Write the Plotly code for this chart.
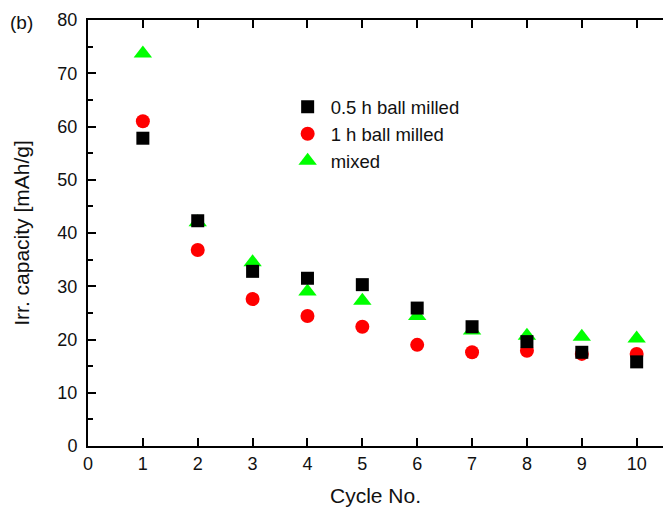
import plotly.graph_objects as go

cycles = [1, 2, 3, 4, 5, 6, 7, 8, 9, 10]
half_h = [57.8, 42.3, 32.8, 31.5, 30.3, 25.9, 22.4, 19.6, 17.6, 15.8]
one_h = [61.0, 36.8, 27.6, 24.4, 22.4, 19.0, 17.6, 17.9, 17.3, 17.3]
mixed = [73.7, 42.0, 34.5, 29.0, 27.3, 24.4, 21.7, 20.7, 20.5, 20.2]

FONT = "Liberation Sans, Arial, sans-serif"

fig = go.Figure()
fig.add_trace(go.Scatter(x=cycles, y=mixed, mode="markers", name="mixed", legendrank=3,
                         marker=dict(symbol="triangle-up", size=16, color="#00ff00")))
fig.add_trace(go.Scatter(x=cycles, y=one_h, mode="markers", name="1 h ball milled", legendrank=2,
                         marker=dict(symbol="circle", size=14, color="#ff0000")))
fig.add_trace(go.Scatter(x=cycles, y=half_h, mode="markers", name="0.5 h ball milled", legendrank=1,
                         marker=dict(symbol="square", size=13, color="#000000")))

fig.update_layout(
    width=663, height=507,
    margin=dict(l=88, r=0, t=20, b=61),
    paper_bgcolor="white", plot_bgcolor="white",
    font=dict(family=FONT, size=18, color="#111111"),
    showlegend=True,
    legend=dict(x=0.342, y=0.84, xanchor="left", yanchor="top",
                bgcolor="rgba(0,0,0,0)", font=dict(family=FONT, size=18.5, color="#111111"),
                itemwidth=36, itemsizing="trace"),
    xaxis=dict(range=[0, 10.48], tickmode="array", tickvals=list(range(0, 11)),
               ticks="inside", ticklen=8, tickwidth=2, tickcolor="black",
               showline=True, linewidth=2, linecolor="black", mirror="ticks",
               showgrid=False, zeroline=False,
               title=dict(text="Cycle No.", standoff=16,
                          font=dict(family=FONT, size=21, color="#111111")),
               tickfont=dict(family=FONT, size=18, color="#111111")),
    yaxis=dict(range=[0, 80], tickmode="linear", tick0=0, dtick=10,
               ticks="inside", ticklen=8, tickwidth=2, tickcolor="black",
               minor=dict(dtick=5, ticks="inside", ticklen=5, tickwidth=2, tickcolor="black"),
               showline=True, linewidth=2, linecolor="black", mirror=False,
               showgrid=False, zeroline=False, ticklabelstandoff=5,
               title=dict(text="Irr. capacity [mAh/g]", standoff=22,
                          font=dict(family=FONT, size=21, color="#111111")),
               tickfont=dict(family=FONT, size=18, color="#111111")),
    yaxis2=dict(range=[0, 80], overlaying="y", side="right", tickmode="linear", tick0=0, dtick=10,
                ticks="inside", ticklen=8, tickwidth=2, tickcolor="black",
                minor=dict(dtick=5, ticks="inside", ticklen=5, tickwidth=2, tickcolor="black"),
                showline=False, showgrid=False, zeroline=False, showticklabels=False),
)

fig.add_annotation(text="(b)", xref="paper", yref="paper", x=-0.139, y=0.995,
                   xanchor="left", yanchor="middle", showarrow=False,
                   font=dict(family=FONT, size=19, color="#111111"))

fig.write_html("out.html")
